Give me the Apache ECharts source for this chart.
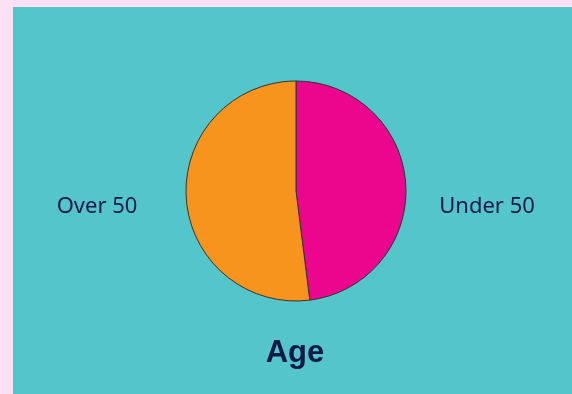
<!DOCTYPE html>
<html>
<head>
<meta charset="utf-8">
<script src="https://cdn.jsdelivr.net/npm/echarts@6/dist/echarts.min.js"></script>
<style>
  html, body { margin: 0; padding: 0; background: #fde0f6; }
  #chart { width: 572px; height: 394px; }
</style>
</head>
<body>
<div id="chart"></div>
<script>
// age groups, share in percent (clockwise from 12 o'clock)
const categories = ['Under 50', 'Over 50']
const values = [48, 52]
const colors = ['#ec068d', '#f7941d']
const titleText = 'Age'

const chart = echarts.init(document.getElementById('chart'), null, { renderer: 'canvas' })

// label spots beside the pie
const labelSpots = {
  'Under 50': [487, 207],
  'Over 50': [97, 207]
}

chart.setOption({
  backgroundColor: '#fde0f6',
  animation: false,
  graphic: [
    {
      type: 'rect',
      z: -1,
      shape: { x: 13, y: 7, width: 559, height: 387 },
      style: { fill: '#55c5cc' }
    }
  ],
  title: {
    text: titleText,
    left: 290,
    top: 333,
    textAlign: 'center',
    textStyle: {
      fontFamily: '"Liberation Sans", Arial, sans-serif',
      fontWeight: 'bold',
      fontSize: 31,
      color: '#0c1a45'
    }
  },
  series: [
    {
      type: 'pie',
      center: [296, 191],
      radius: 110,
      startAngle: 90,
      clockwise: true,
      itemStyle: {
        borderColor: '#333',
        borderWidth: 1
      },
      label: {
        show: true,
        position: 'outside',
        formatter: '{b}',
        fontFamily: '"Noto Sans", sans-serif',
        fontSize: 22,
        color: '#0c1a45'
      },
      labelLine: { show: false },
      labelLayout(params) {
        const spot = labelSpots[categories[params.dataIndex]]
        return { x: spot[0], y: spot[1], align: 'center', verticalAlign: 'middle' }
      },
      data: categories.map((name, i) => ({
        name: name,
        value: values[i],
        itemStyle: { color: colors[i] }
      }))
    }
  ]
})
</script>
</body>
</html>
